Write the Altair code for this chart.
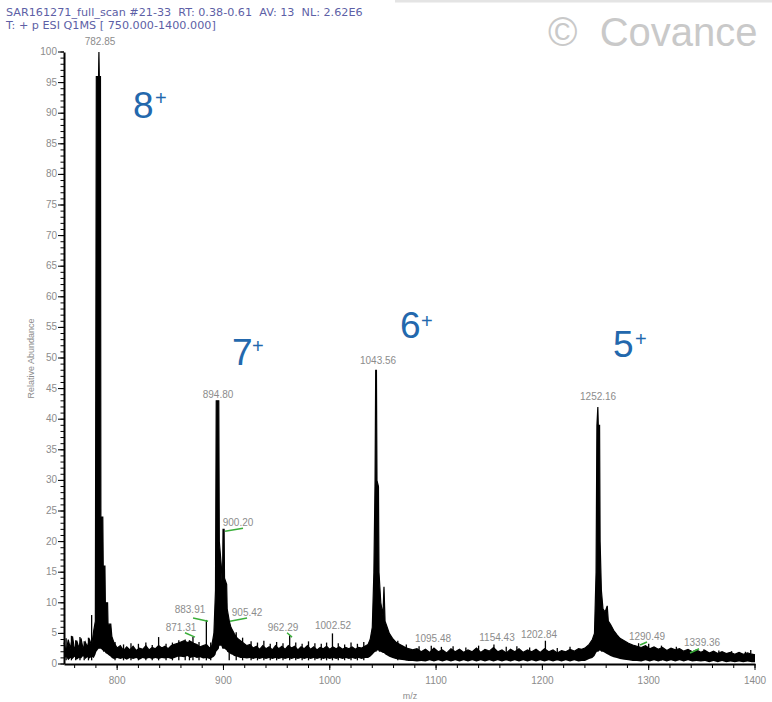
import altair as alt
import pandas as pd

# ---- spectrum: upper / lower edge of the trace (m/z, relative abundance %) ----
MZ = [750, 752, 754, 756, 758, 760, 762, 764, 766, 768, 770, 772, 774, 776, 778,
      779.5, 780.4, 782.5, 782.85, 783.2, 784.3, 784.7, 786.5, 786.9, 788.5, 788.9,
      791.0, 791.4, 794, 795, 797,
      800, 803, 806, 809, 812, 815, 818, 821, 824, 827, 830, 833, 836, 839, 842,
      845, 848, 851, 854, 857, 860, 863, 866, 869, 872, 875, 878, 881, 884, 887,
      889, 891, 892.5, 893.2, 895.6, 896.1, 898.0, 899.0, 899.6, 900.6, 901.0,
      903.0, 903.5, 905.5, 907, 908.5, 910, 913, 916, 919, 922, 925, 928, 931,
      934, 937, 940, 943, 946, 949, 952, 955, 958, 961, 964, 967, 970, 973, 976,
      979, 982, 985, 988, 991, 994, 997, 1000, 1003, 1006, 1009, 1012, 1015, 1018,
      1021, 1024, 1027, 1030, 1033, 1036, 1038, 1040, 1041.5, 1042.6, 1043.2,
      1043.9, 1044.4, 1045.8, 1046.3, 1048, 1050, 1051, 1052, 1054, 1056, 1059,
      1062, 1066, 1070, 1074, 1078, 1082, 1086,
      1090, 1094, 1098, 1102, 1106, 1110, 1114, 1118, 1122, 1126, 1130, 1134,
      1138, 1142, 1146, 1150, 1154, 1158, 1162, 1166, 1170, 1174, 1178, 1182,
      1186, 1190, 1194, 1198, 1202, 1206, 1210, 1214, 1218, 1222, 1226, 1230,
      1234, 1237, 1240, 1244, 1247, 1249, 1250.5, 1251.3, 1252.16, 1252.6, 1253.8,
      1254.3, 1255.5, 1257, 1259, 1261, 1262, 1264, 1267, 1270, 1273, 1277, 1281,
      1285, 1289, 1293, 1297, 1301, 1305, 1309, 1313, 1317, 1321, 1325, 1329,
      1333, 1337, 1341, 1345, 1349, 1353, 1357, 1361, 1365, 1369, 1373, 1377,
      1381, 1385, 1389, 1393, 1397, 1400]

HI = [3.5, 2.0, 4.0, 2.5, 4.5, 2.2, 3.8, 2.6, 4.2, 2.4, 3.6, 2.8, 4.0, 3.0, 5.5,
      7.0, 96, 96, 100, 96, 96, 24, 24, 16, 16, 10,
      10, 6.5, 6.5, 4.5, 3.5,
      2.6, 3.0, 2.2, 2.8, 2.3, 2.9, 2.2, 2.6, 2.4, 3.0, 2.3, 2.7, 2.5, 3.0, 2.6,
      2.9, 2.5, 3.0, 3.2, 3.4, 3.6, 3.8, 3.5, 3.7, 3.4, 3.2, 2.8, 3.0, 3.2, 2.6,
      3.0, 5.0, 12, 43, 43, 20, 16, 12, 22, 22, 14,
      13, 9, 7, 6, 5.5, 5.0, 4.2, 3.8, 3.4, 3.0, 3.2, 2.6, 2.9,
      2.4, 3.0, 2.5, 2.8, 2.3, 3.0, 2.5, 2.9, 2.4, 3.0, 2.6, 2.9, 2.3, 2.8, 2.5,
      3.0, 2.4, 2.8, 2.3, 2.7, 2.5, 2.9, 2.4, 2.8, 2.5, 2.8, 2.4, 2.7, 2.5,
      2.8, 2.4, 2.7, 2.6, 2.9, 3.2, 4.0, 6.0, 15, 30, 48,
      48, 30, 29, 15, 10, 8, 12.6, 7, 6, 5, 4.2,
      3.6, 3.2, 2.8, 2.5, 2.3, 2.5, 2.0,
      2.4, 1.9, 2.6, 2.0, 2.3, 1.8, 2.5, 2.0, 2.4, 1.9, 2.3, 2.0,
      2.6, 1.9, 2.4, 2.1, 2.7, 2.0, 2.3, 1.8, 2.4, 2.0, 2.5, 1.9,
      2.3, 2.0, 2.4, 1.9, 2.5, 2.0, 2.3, 1.8, 2.2, 2.0, 2.4, 2.1,
      2.5, 2.4, 2.6, 3.2, 4.0, 5.0, 15, 39, 42, 39, 39,
      20, 12, 9, 8.5, 9.5, 7, 6.5, 5.5, 4.8, 4.2, 3.8, 3.4,
      3.1, 2.9, 2.7, 3.0, 2.5, 2.8, 2.4, 2.7, 2.2, 2.6, 2.3, 2.5,
      2.1, 2.4, 2.0, 2.3, 1.9, 2.2, 1.8, 2.1, 1.7, 2.0, 1.7, 1.9,
      1.6, 1.9, 1.6, 1.8, 1.6, 1.5]

LO = [0.8, 1.2, 0.6, 1.0, 0.8, 1.2, 0.7, 1.0, 0.9, 1.3, 0.8, 1.1, 0.9, 1.2, 1.0,
      1.5, 2.0, 2.5, 2.5, 2.5, 2.5, 2.5, 2.2, 2.0, 2.0, 1.8,
      1.6, 1.5, 1.2, 1.0, 0.8,
      1.0, 0.8, 1.0, 0.7, 1.0, 0.8, 1.0, 0.7, 1.0, 0.8, 1.0, 0.8, 1.0, 0.8, 1.0,
      0.9, 1.0, 0.8, 1.0, 1.2, 1.2, 1.1, 1.3, 1.0, 1.2, 1.0, 1.1, 0.9, 1.0, 0.8,
      1.0, 1.2, 1.5, 2.0, 2.5, 3.0, 3.0, 2.5, 2.5, 2.5, 2.5,
      2.2, 2.0, 1.8, 1.6, 1.5, 1.3, 1.2, 1.0, 1.0, 0.9, 1.0, 0.8, 1.0,
      0.8, 1.0, 0.8, 1.0, 0.8, 1.0, 0.8, 1.0, 0.8, 1.0, 0.8, 1.0, 0.8, 1.0, 0.8,
      1.0, 0.8, 1.0, 0.8, 1.0, 0.8, 1.0, 0.8, 1.0, 0.8, 1.0, 0.8, 1.0, 0.8,
      1.0, 0.8, 1.0, 0.8, 1.0, 1.0, 1.2, 1.5, 1.8, 2.0, 2.0,
      2.0, 2.2, 2.2, 2.0, 2.0, 1.8, 1.8, 1.6, 1.4, 1.2, 1.0,
      0.8, 0.7, 0.6, 0.5, 0.5, 0.4, 0.5,
      0.4, 0.6, 0.4, 0.6, 0.4, 0.6, 0.4, 0.6, 0.4, 0.6, 0.4, 0.6,
      0.4, 0.6, 0.4, 0.6, 0.4, 0.6, 0.4, 0.6, 0.4, 0.6, 0.4, 0.6,
      0.4, 0.6, 0.4, 0.6, 0.4, 0.6, 0.4, 0.6, 0.4, 0.6, 0.4, 0.6,
      0.4, 0.5, 0.5, 0.8, 1.0, 1.3, 1.8, 2.0, 2.0, 2.0, 2.2,
      2.2, 2.0, 2.0, 1.8, 1.6, 1.5, 1.3, 1.1, 1.0, 0.8, 0.7, 0.6,
      0.5, 0.5, 0.4, 0.6, 0.4, 0.6, 0.4, 0.6, 0.4, 0.6, 0.4, 0.6,
      0.4, 0.6, 0.4, 0.5, 0.4, 0.5, 0.3, 0.5, 0.3, 0.5, 0.3, 0.4,
      0.3, 0.4, 0.3, 0.4, 0.3, 0.3]

# ---- narrow noise spikes rising out of the baseline ----
SPIKE_MZ = [752, 757, 761, 765, 769, 773, 776, 798, 806, 813, 820, 827, 833, 839,
            846, 852, 858, 864, 868, 871.31, 877, 883.91, 888, 905.42, 912, 918,
            926, 932, 938, 944, 950, 956, 962.29, 968, 974, 980, 986, 992, 997,
            1002.52, 1008, 1014, 1020, 1026, 1032, 1064, 1072, 1084, 1095.48, 1105,
            1116, 1128, 1140, 1154.43, 1166, 1176, 1188, 1202.84, 1214, 1226,
            1290.49, 1300, 1312, 1326, 1339.36, 1352, 1366, 1378, 1391, 1396]
SPIKE_TOP = [4.2, 4.6, 3.9, 4.4, 3.7, 4.3, 8.0, 3.6, 3.2, 3.4, 3.3, 3.5, 3.1, 4.4,
             3.3, 3.5, 3.9, 4.0, 3.9, 4.4, 3.6, 7.2, 3.5, 7.0, 5.2, 4.3,
             3.7, 3.5, 3.8, 3.3, 3.6, 3.4, 4.7, 3.5, 3.3, 3.7, 3.4, 3.3, 3.5,
             5.0, 3.4, 3.2, 3.5, 3.3, 3.6, 3.8, 3.2, 2.9, 3.0, 2.8,
             2.9, 2.7, 3.0, 3.2, 2.8, 2.9, 2.7, 3.8, 2.6, 2.8,
             3.4, 3.3, 3.0, 2.8, 2.2, 2.4, 2.2, 2.1, 2.0, 2.3]

# ---- peak m/z labels ----
LABEL_TEXT = ["782.85", "894.80", "900.20", "883.91", "871.31", "905.42", "962.29",
              "1002.52", "1043.56", "1095.48", "1154.43", "1202.84", "1252.16",
              "1290.49", "1339.36"]
LABEL_MZ = [783.9, 894.9, 913.7, 868.5, 860.1, 922.2, 956.0, 1003.1, 1045.4,
            1097.1, 1157.3, 1196.8, 1252.4, 1298.4, 1350.2]
LABEL_Y = [101.6, 44.0, 23.0, 8.8, 5.9, 8.3, 5.9, 6.2, 49.5, 4.1, 4.2, 4.7,
           43.6, 4.4, 3.4]

# ---- green leader lines from minor peaks to their labels ----
LEAD_MZ = [901.5, 871.4, 863.8, 906.2, 959.8, 1291.9, 1338.9]
LEAD_MZ2 = [918.4, 885.5, 873.2, 922.2, 964.5, 1298.4, 1347.4]
LEAD_Y = [21.7, 7.5, 5.1, 7.0, 5.1, 3.1, 1.8]
LEAD_Y2 = [22.2, 7.0, 4.4, 7.5, 4.4, 3.6, 2.5]

# ---- charge-state annotations ----
CHARGE = ["8", "7", "6", "5"]
CHARGE_MZ = [814.9, 908.0, 1066.1, 1266.5]
CHARGE_Y = [89.2, 48.9, 53.3, 50.2]
PLUS_MZ = [835.6, 926.9, 1085.8, 1287.2]
PLUS_Y = [92.3, 51.8, 55.9, 52.9]

# ---- axis ticks ----
X_TICKS = [800, 900, 1000, 1100, 1200, 1300, 1400]
Y_TICKS = list(range(0, 101, 5))
X_MINOR = list(range(760, 1401, 20))
Y_MINOR = list(range(0, 101, 1))

HEADER = ["SAR161271_full_scan #21-33\u00a0\u00a0RT: 0.38-0.61\u00a0\u00a0AV: 13\u00a0\u00a0NL: 2.62E6",
          "T: + p ESI Q1MS [ 750.000-1400.000]"]

FONT = "Liberation Sans"
GREY = "#8c8c8c"
BLUE = "#2368ad"
H = 612  # plot height in px

spec = pd.DataFrame({"mz": MZ, "hi": HI, "lo": LO})
spikes = pd.DataFrame({"mz": SPIKE_MZ, "top": SPIKE_TOP, "base": [0.6] * len(SPIKE_MZ)})
labels = pd.DataFrame({"t": LABEL_TEXT, "mz": LABEL_MZ, "y": LABEL_Y})
leads = pd.DataFrame({"mz": LEAD_MZ, "mz2": LEAD_MZ2, "y": LEAD_Y, "y2": LEAD_Y2})
charges = pd.DataFrame({"t": CHARGE, "mz": CHARGE_MZ, "y": CHARGE_Y})
pluses = pd.DataFrame({"t": ["+"] * 4, "mz": PLUS_MZ, "y": PLUS_Y})
xmajor = pd.DataFrame({"v": X_TICKS})
ymajor = pd.DataFrame({"v": Y_TICKS})
xminor = pd.DataFrame({"v": X_MINOR})
yminor = pd.DataFrame({"v": Y_MINOR})
header = pd.DataFrame({"t": ["\n".join(HEADER)]})
mark = pd.DataFrame({"t": ["\u00a9\u00a0\u00a0Covance"]})

xs = alt.Scale(domain=[750, 1400], nice=False, zero=False)
ys = alt.Scale(domain=[0, 100], nice=False)

# axis lines and titles; ticks and tick labels are drawn as layers below
x_axis = alt.Axis(title="m/z", grid=False, labels=False, ticks=False,
                  domainColor="black", domainWidth=2, titleFont=FONT,
                  titleFontSize=9, titleFontWeight="normal", titleColor=GREY,
                  titleY=31, titleBaseline="middle")
y_axis = alt.Axis(title="Relative Abundance", grid=False, labels=False,
                  ticks=False, domainColor="black", domainWidth=2,
                  titleFont=FONT, titleFontSize=9, titleFontWeight="normal",
                  titleColor=GREY, titleX=-34, titleBaseline="middle")

band = alt.Chart(spec).mark_area(color="black", opacity=1).encode(
    x=alt.X("mz:Q", scale=xs, axis=x_axis),
    y=alt.Y("hi:Q", scale=ys, axis=y_axis),
    y2="lo:Q",
)
edge = alt.Chart(spec).mark_line(color="black", strokeWidth=1.2).encode(
    x=alt.X("mz:Q", scale=xs), y=alt.Y("hi:Q", scale=ys)
)
spike_rules = alt.Chart(spikes).mark_rule(color="black", strokeWidth=1.3).encode(
    x=alt.X("mz:Q", scale=xs), y=alt.Y("top:Q", scale=ys), y2="base:Q"
)

# tick marks
x_major_ticks = alt.Chart(xmajor).mark_rule(color="black", strokeWidth=1).encode(
    x=alt.X("v:Q", scale=xs), y=alt.value(H), y2=alt.value(H + 6)
)
y_major_ticks = alt.Chart(ymajor).mark_rule(color="black", strokeWidth=1).encode(
    y=alt.Y("v:Q", scale=ys), x=alt.value(-6), x2=alt.value(0)
)
x_minor_ticks = alt.Chart(xminor).mark_rule(color="black", strokeWidth=1).encode(
    x=alt.X("v:Q", scale=xs), y=alt.value(H), y2=alt.value(H + 4)
)
y_minor_ticks = alt.Chart(yminor).mark_rule(color="black", strokeWidth=1).encode(
    y=alt.Y("v:Q", scale=ys), x=alt.value(-3.5), x2=alt.value(0)
)

# tick labels
x_tick_labels = alt.Chart(xmajor).mark_text(
    font=FONT, fontSize=10, color=GREY, align="center", baseline="middle"
).encode(x=alt.X("v:Q", scale=xs), y=alt.value(H + 17), text="v:Q")
y_tick_labels = alt.Chart(ymajor).mark_text(
    font=FONT, fontSize=10, color=GREY, align="right", baseline="middle"
).encode(y=alt.Y("v:Q", scale=ys), x=alt.value(-7), text="v:Q")

peak_labels = alt.Chart(labels).mark_text(
    font=FONT, fontSize=10, color=GREY, align="center", baseline="middle"
).encode(x=alt.X("mz:Q", scale=xs), y=alt.Y("y:Q", scale=ys), text="t:N")

lead_lines = alt.Chart(leads).mark_rule(color="#3aae3a", strokeWidth=1.5).encode(
    x=alt.X("mz:Q", scale=xs), x2="mz2:Q", y=alt.Y("y:Q", scale=ys), y2="y2:Q"
)

charge_text = alt.Chart(charges).mark_text(
    font=FONT, fontSize=37, color=BLUE, align="left", baseline="alphabetic"
).encode(x=alt.X("mz:Q", scale=xs), y=alt.Y("y:Q", scale=ys), text="t:N")
plus_text = alt.Chart(pluses).mark_text(
    font=FONT, fontSize=20, color=BLUE, align="left", baseline="middle"
).encode(x=alt.X("mz:Q", scale=xs), y=alt.Y("y:Q", scale=ys), text="t:N")

header_text = alt.Chart(header).mark_text(
    font="DejaVu Sans", fontSize=11.2, color="#5d5fa6", align="left",
    baseline="alphabetic", lineBreak="\n", lineHeight=12.5
).encode(x=alt.value(-58), y=alt.value(-36), text="t:N")

watermark = alt.Chart(mark).mark_text(
    font=FONT, fontSize=40, color="#c9c9c9", align="left", baseline="middle"
).encode(x=alt.value(484), y=alt.value(-18), text="t:N")

top_bar = alt.Chart(mark).mark_rule(color="#e4e4e4", strokeWidth=3).encode(
    x=alt.value(331), x2=alt.value(708), y=alt.value(-51)
)

chart = alt.layer(
    band, edge, spike_rules, x_major_ticks, y_major_ticks, x_minor_ticks,
    y_minor_ticks, x_tick_labels, y_tick_labels, lead_lines, peak_labels,
    charge_text, plus_text, header_text, watermark, top_bar
).properties(
    width=691, height=H,
    autosize=alt.AutoSizeParams(type="none"),
    padding={"left": 64, "top": 52, "right": 17, "bottom": 38},
).configure(background="white").configure_view(strokeWidth=0, stroke="transparent")

chart.save("out.html", embed_options={"renderer": "svg", "actions": False})
